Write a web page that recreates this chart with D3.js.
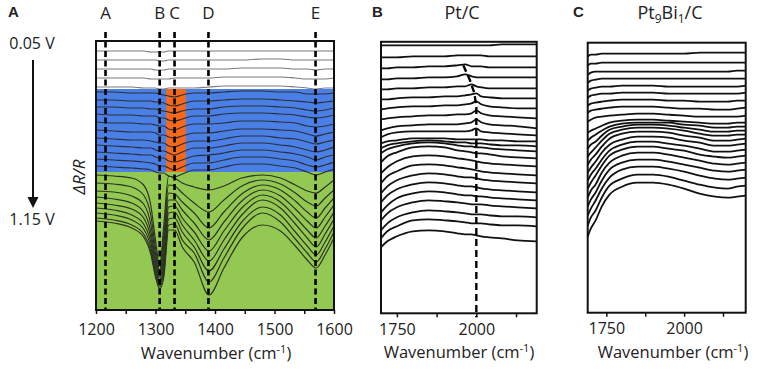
<!DOCTYPE html>
<html>
<head>
<meta charset="utf-8">
<script src="https://cdn.jsdelivr.net/npm/d3@7"></script>
<style>
  body { margin: 0; background: #fff; }
  text { font-family: "Open Sans", sans-serif; fill: #222; }
</style>
</head>
<body>
<div id="chart"></div>
<script>
// ---------- Panel A data (wavenumber grid + offset spectra, dR/R a.u.) ----------
const waveA = [1200, 1230, 1260, 1280, 1292, 1300, 1307, 1314, 1322, 1332, 1345,
               1365, 1390, 1415, 1445, 1480, 1510, 1535, 1555, 1570, 1585, 1600];

const specA_low = [
  [259,259,259,259,258,258,258,258,259,259,259,259,259,259,259,259,259,259,259,259,259,259],
  [250,250,250,250,250,250,249,249,250,250,250,250,250,250,250,251,251,250,250,250,250,250],
  [241,241,241,241,241,240,240,240,241,241,241,241,241,241,242,242,242,241,241,240,241,241],
  [232,232,232,232,231,231,231,231,231,232,232,232,232,233,233,233,233,232,231,231,231,232],
  [223,223,223,222,222,222,221,221,222,222,222,222,223,224,224,224,224,223,222,221,222,222]
];

const specA_mid = [
  [218,218,217,217,217,217,216,215,214,213,215,217,217,218,219,219,218,218,216,216,216,217],
  [210,210,209,209,209,208,208,207,205,204,206,209,209,210,211,211,210,209,208,207,208,209],
  [203,203,202,202,201,201,200,199,198,197,199,201,201,203,204,204,203,202,200,199,200,202],
  [196,195,195,194,194,194,192,192,190,189,191,194,194,196,197,197,196,195,193,192,193,195],
  [188,187,187,186,186,185,184,184,181,180,183,186,186,187,189,189,188,187,184,183,184,186],
  [180,179,178,178,178,177,175,175,173,172,174,177,177,179,181,181,180,179,176,174,176,178],
  [172,171,170,170,169,168,167,167,164,163,166,169,169,171,174,174,172,171,168,166,168,170],
  [165,164,163,162,162,160,159,159,157,155,158,162,162,164,167,167,165,163,160,158,160,163],
  [158,157,156,155,155,153,152,152,149,148,150,154,155,157,160,160,158,156,153,150,153,155],
  [151,150,149,148,147,146,144,144,142,140,143,147,147,150,153,153,151,149,145,143,145,148],
  [144,143,142,141,140,138,137,137,134,133,136,140,140,143,146,146,144,142,138,135,138,141]
];

const specA_high = [
  [135,134,132,125,105,70,44,85,134,132,127,123,120,124,132,135,132,125,119,117,123,130],
  [127,126,123,115,95,62,40,75,125,124,117,107,98,110,124,130,126,117,108,104,112,120],
  [119,118,114,106,86,56,36,66,117,116,108,97,82,98,116,125,120,109,98,92,102,112],
  [113,111,107,98,79,51,33,58,110,110,100,87,70,88,109,120,114,101,89,82,93,105],
  [107,105,101,92,73,47,30,52,103,104,92,78,59,79,102,115,108,93,80,72,84,98],
  [102,100,95,86,68,43,27,46,97,98,85,70,49,70,95,110,102,86,72,63,76,91],
  [97,95,90,81,63,39,25,41,91,92,78,63,39,61,88,103,95,78,64,55,68,84],
  [92,90,85,76,59,36,23,37,85,86,70,57,28,52,81,97,88,71,57,48,61,78],
  [89,87,82,73,56,33,21,33,80,80,63,48,15,42,72,85,79,64,50,42,55,72]
];

const zonesA = [138, 221];           // dR/R limits of the shaded potential zones
const orangeBandA = [1318, 1351];    // highlighted wavenumber range
const bandPosA = [1216, 1307, 1332, 1389, 1569];
const bandLabelsA = ["A", "B", "C", "D", "E"];
const majorTicksA = [1200, 1300, 1400, 1500, 1600];
const minorTicksA = [1250, 1350, 1450, 1550];

// ---------- Panel B data (Pt/C) ----------
const waveB = [1700, 1720, 1750, 1800, 1850, 1900, 1940, 1965, 1985, 2000, 2015, 2040, 2080, 2130, 2190];

const specB = [
  [268,268,268,268,268,268,268,268,268,268,268,268,269,269,269],
  [256,256,256,257,257,257,258,258,258,258,258,257,257,257,257],
  [245,245,246,246,247,247,248,249,247,247,247,246,246,246,246],
  [234,234,235,235,236,236,237,239,237,236,236,236,236,236,236],
  [224,224,225,225,226,226,227,227,229,227,226,225,225,225,225],
  [214,214,215,216,216,217,217,218,219,220,217,216,215,215,215],
  [204,205,206,207,207,208,208,209,210,212,209,207,206,205,205],
  [194,195,196,197,198,198,199,199,200,203,200,198,197,196,195],
  [183,185,187,188,189,189,189,190,191,194,191,189,188,187,185],
  [176,179,181,182,182,182,182,182,183,185,182,181,180,179,178],
  [170,172,173,175,175,175,174,174,174,174,174,173,173,172,172],
  [165,168,170,172,173,172,171,171,170,170,170,169,168,168,167],
  [160,164,167,170,171,170,168,167,167,166,166,165,164,163,162],
  [151,157,161,166,167,166,163,162,161,160,160,159,157,156,155],
  [140,146,152,157,158,157,155,154,153,152,151,150,149,148,147],
  [130,137,142,148,149,148,146,145,144,143,142,141,140,139,138],
  [120,127,133,138,140,139,137,136,136,135,134,133,132,131,130],
  [111,118,124,129,131,130,128,127,127,126,125,124,123,122,121],
  [101,108,115,120,122,121,119,118,118,117,117,116,115,114,113],
  [93,100,106,111,113,112,111,110,109,109,109,108,107,106,105],
  [83,90,96,101,103,102,101,100,99,99,99,98,97,97,96],
  [75,82,87,93,94,93,92,91,90,90,90,89,88,88,87],
  [66,72,77,82,83,82,80,79,79,78,77,76,75,73,72]
];

const shiftLineBWave = [1959, 1980, 1994, 2000, 2000];
const shiftLineBVal = [248, 233, 220, 206, -4];
const majorTicksB = [1750, 2000];
const minorTicksB = [1875, 2125];

// ---------- Panel C data (Pt9Bi1/C) ----------
const waveC = [1690, 1700, 1715, 1735, 1760, 1800, 1850, 1900, 1950, 2000, 2050, 2100, 2140, 2170, 2198];

const specC = [
  [256,258,258,259,259,259,259,259,259,259,260,260,260,260,260],
  [247,249,249,250,250,250,250,250,250,250,250,250,250,250,250],
  [238,240,241,241,241,241,241,241,241,241,241,241,241,242,242],
  [230,232,233,234,234,234,234,234,234,234,234,234,234,234,234],
  [222,224,225,226,226,227,227,227,226,226,226,226,226,226,227],
  [215,217,218,219,219,220,220,220,219,219,219,219,219,219,220],
  [207,209,210,211,212,213,213,213,212,212,211,211,211,212,212],
  [200,202,203,204,205,206,206,206,205,204,204,203,203,204,205],
  [191,193,195,196,197,198,199,199,198,197,196,196,196,196,197],
  [180,182,184,187,190,192,193,193,192,191,190,189,189,190,190],
  [172,175,178,182,186,189,190,190,190,188,187,185,185,186,186],
  [164,168,171,177,183,186,188,188,187,185,183,181,181,182,182],
  [156,160,165,172,179,183,185,185,184,182,179,177,177,178,178],
  [148,153,158,166,174,179,181,181,180,177,175,172,172,173,174],
  [140,145,151,160,168,173,176,176,175,172,170,167,167,168,169],
  [132,138,144,153,162,168,171,171,169,167,164,161,161,162,163],
  [124,130,137,147,157,163,166,166,164,162,158,156,155,156,157],
  [115,122,128,140,150,157,160,160,158,155,152,149,148,149,150],
  [106,113,120,132,143,150,153,153,151,148,145,142,141,142,143],
  [97,104,112,124,135,143,146,146,144,141,137,134,133,134,135],
  [87,95,102,115,127,134,138,138,136,132,128,125,124,126,127],
  [76,84,92,106,118,126,130,130,128,124,119,116,115,116,117]
];

const majorTicksC = [1750, 2000];
const minorTicksC = [1875, 2125];

// ---------- drawing ----------
const svg = d3.select("#chart").append("svg")
    .attr("width", 761)
    .attr("height", 369);

function drawSpectra(g, x, y, wave, series, color, width) {
  const line = d3.line()
      .x((d, i) => x(wave[i]))
      .y(d => y(d))
      .curve(d3.curveMonotoneX);
  g.selectAll(null)
      .data(series)
      .enter().append("path")
      .attr("d", line)
      .attr("fill", "none")
      .attr("stroke", color)
      .attr("stroke-width", width)
      .attr("stroke-linejoin", "round");
}

function drawAxis(g, x, yPos, major, minor, pad) {
  const ax = g.append("g")
      .attr("transform", `translate(0,${yPos})`)
      .call(d3.axisBottom(x)
        .tickValues(major.concat(minor))
        .tickSize(4)
        .tickPadding(pad)
        .tickFormat(d => major.includes(d) ? d : ""));
  ax.select(".domain").remove();
  ax.selectAll(".tick line").attr("stroke", "#111").attr("stroke-width", 1.5);
  ax.selectAll(".tick text")
      .attr("fill", "#222")
      .style("font-family", "'Open Sans', sans-serif")
      .style("font-size", "16px");
}

function axisTitle(g, cx, cy) {
  const t = g.append("text")
      .attr("x", cx)
      .attr("y", cy)
      .attr("text-anchor", "middle")
      .style("font-size", "16.5px")
      .text("Wavenumber (cm");
  t.append("tspan").attr("dy", -6).style("font-size", "11px").text("-1");
  t.append("tspan").attr("dy", 6).text(")");
}

function frame(g, x, y, x0, x1, y0, y1) {
  g.append("rect")
      .attr("x", x(x0)).attr("y", y(y1))
      .attr("width", x(x1) - x(x0)).attr("height", y(y0) - y(y1))
      .attr("fill", "none")
      .attr("stroke", "#111")
      .attr("stroke-width", 2);
}

function panelLetter(txt, px, py) {
  svg.append("text")
      .attr("x", px).attr("y", py)
      .style("font-family", "'Liberation Sans', Arial, sans-serif")
      .style("font-weight", "bold")
      .style("font-size", "15px")
      .text(txt);
}

// ----- Panel A -----
const xA = d3.scaleLinear().domain([1200, 1600]).range([96, 334]);
const yA = d3.scaleLinear().domain([0, 269]).range([310, 41]);
const gA = svg.append("g");

svg.append("defs").append("clipPath").attr("id", "clipA")
  .append("rect")
    .attr("x", xA(1200)).attr("y", yA(269))
    .attr("width", xA(1600) - xA(1200)).attr("height", yA(0) - yA(269));

gA.append("rect")
    .attr("x", xA(1200)).attr("y", yA(zonesA[1]))
    .attr("width", xA(1600) - xA(1200)).attr("height", yA(zonesA[0]) - yA(zonesA[1]))
    .attr("fill", "#4a80e6");
gA.append("rect")
    .attr("x", xA(1200)).attr("y", yA(zonesA[0]))
    .attr("width", xA(1600) - xA(1200)).attr("height", yA(0) - yA(zonesA[0]))
    .attr("fill", "#93c852");
gA.append("rect")
    .attr("x", xA(orangeBandA[0])).attr("y", yA(zonesA[1]))
    .attr("width", xA(orangeBandA[1]) - xA(orangeBandA[0])).attr("height", yA(zonesA[0]) - yA(zonesA[1]))
    .attr("fill", "#f6681a");

const linesA = gA.append("g").attr("clip-path", "url(#clipA)");
drawSpectra(linesA, xA, yA, waveA, specA_low, "#7a7a7a", 1.1);
drawSpectra(linesA, xA, yA, waveA, specA_mid, "#2b2f38", 1.2);
drawSpectra(linesA, xA, yA, waveA, specA_high, "#2c3424", 1.2);

// band markers
gA.selectAll(".band")
  .data(bandPosA)
  .enter().append("line")
    .attr("class", "band")
    .attr("x1", d => xA(d)).attr("x2", d => xA(d))
    .attr("y1", yA(278)).attr("y2", yA(0))
    .attr("stroke", "#000")
    .attr("stroke-width", 2.6)
    .attr("stroke-dasharray", "6,3.5");

gA.selectAll(".bandLabel")
  .data(bandPosA)
  .enter().append("text")
    .attr("class", "bandLabel")
    .attr("x", d => xA(d))
    .attr("y", 18.5)
    .attr("text-anchor", "middle")
    .style("font-size", "17px")
    .text((d, i) => bandLabelsA[i]);

frame(gA, xA, yA, 1200, 1600, 0, 269);
drawAxis(gA, xA, yA(0), majorTicksA, minorTicksA, 10);
axisTitle(gA, 216, 359);

// potential arrow + labels
svg.append("text").attr("x", 32).attr("y", 48.5)
    .attr("text-anchor", "middle").style("font-size", "16px").text("0.05 V");
svg.append("text").attr("x", 32).attr("y", 225)
    .attr("text-anchor", "middle").style("font-size", "16px").text("1.15 V");
svg.append("line")
    .attr("x1", 33).attr("x2", 33).attr("y1", 60).attr("y2", 199)
    .attr("stroke", "#111").attr("stroke-width", 2);
svg.append("path")
    .attr("d", "M27.5,197 L38.5,197 L33,208 Z")
    .attr("fill", "#111");
svg.append("text")
    .attr("transform", "translate(85,177) rotate(-90)")
    .attr("text-anchor", "middle")
    .style("font-size", "17px")
    .style("font-style", "italic")
    .text("ΔR/R");

panelLetter("A", 8, 17);

// ----- Panel B -----
const xB = d3.scaleLinear().domain([1700, 2190]).range([381, 536.7]);
const yB = d3.scaleLinear().domain([0, 271.5]).range([313.3, 41.8]);
const gB = svg.append("g");

drawSpectra(gB, xB, yB, waveB, specB, "#111", 1.8);

gB.append("path")
    .datum(shiftLineBWave.map((w, i) => [w, shiftLineBVal[i]]))
    .attr("d", d3.line().x(d => xB(d[0])).y(d => yB(d[1])))
    .attr("fill", "none")
    .attr("stroke", "#000")
    .attr("stroke-width", 2.4)
    .attr("stroke-dasharray", "7,4");

frame(gB, xB, yB, 1700, 2190, 0, 271.5);
drawAxis(gB, xB, yB(0), majorTicksB, minorTicksB, 6);
axisTitle(gB, 459, 358);

gB.append("text")
    .attr("x", 462).attr("y", 19)
    .attr("text-anchor", "middle")
    .style("font-size", "18px")
    .text("Pt/C");
panelLetter("B", 372, 17);

// ----- Panel C -----
const xC = d3.scaleLinear().domain([1690, 2198]).range([587.7, 745.7]);
const yC = d3.scaleLinear().domain([0, 270]).range([312.7, 42.7]);
const gC = svg.append("g");

drawSpectra(gC, xC, yC, waveC, specC, "#111", 1.8);

frame(gC, xC, yC, 1690, 2198, 0, 270);
drawAxis(gC, xC, yC(0), majorTicksC, minorTicksC, 6);
axisTitle(gC, 673, 358);

const titleC = gC.append("text")
    .attr("x", 670).attr("y", 19)
    .attr("text-anchor", "middle")
    .style("font-size", "18px");
titleC.append("tspan").text("Pt");
titleC.append("tspan").attr("dy", 4).style("font-size", "12px").text("9");
titleC.append("tspan").attr("dy", -4).text("Bi");
titleC.append("tspan").attr("dy", 4).style("font-size", "12px").text("1");
titleC.append("tspan").attr("dy", -4).text("/C");
panelLetter("C", 573, 17);
</script>
</body>
</html>
